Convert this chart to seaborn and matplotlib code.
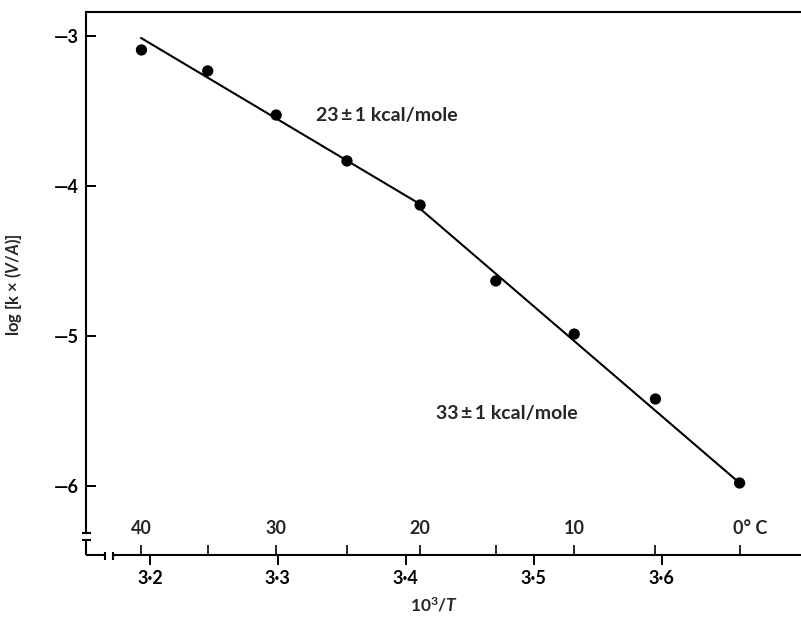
import numpy as np
import pandas as pd
import matplotlib
matplotlib.use("Agg")
import matplotlib.pyplot as plt
import seaborn as sns

# ---- data ----
temps_C = [40, 35, 30, 25, 20, 15, 10, 5, 0]
log_k = [-3.093, -3.233, -3.527, -3.833, -4.127, -4.633, -4.987, -5.42, -5.98]
fit1_x = [3.193, 3.411]
fit1_y = [-3.013, -4.12]
fit2_x = [3.411, 3.661]
fit2_y = [-4.15, -5.98]
x_ticks = [3.2, 3.3, 3.4, 3.5, 3.6]
x_tick_labels = ["3·2", "3·3", "3·4", "3·5", "3·6"]
y_ticks = [-3, -4, -5, -6]
y_tick_labels = ["\u20143", "\u20144", "\u20145", "\u20146"]
temp_labels = {40: "40", 30: "30", 20: "20", 10: "10", 0: "0° C"}

inv_T = [1000.0 / (t + 273.15) for t in temps_C]
pts = pd.DataFrame({"invT": inv_T, "logk": log_k})
fits = pd.DataFrame({"x": fit1_x + fit2_x, "y": fit1_y + fit2_y,
                     "seg": [1, 1, 2, 2]})

sns.set_theme(style="white")
plt.rcParams["font.family"] = ["Lato", "DejaVu Sans"]
plt.rcParams["font.weight"] = "bold"
plt.rcParams["mathtext.fontset"] = "custom"
plt.rcParams["mathtext.rm"] = "Lato:bold"
plt.rcParams["mathtext.it"] = "Lato:italic:bold"
plt.rcParams["mathtext.bf"] = "Lato:bold"

fig = plt.figure(figsize=(8.01, 6.24), dpi=100)
ax = fig.add_axes([86 / 801, 1 - 555 / 624, (801 - 86) / 801, (555 - 12) / 624])

XMIN, XMAX = 3.15, 3.709
YMIN, YMAX = -6.46, -2.84

sns.lineplot(data=fits, x="x", y="y", units="seg", estimator=None,
             color="black", lw=1.5, ax=ax, legend=False)
sns.scatterplot(data=pts, x="invT", y="logk", color="black", s=66,
                edgecolor="none", ax=ax, zorder=3, legend=False)

ax.set_xlim(XMIN, XMAX)
ax.set_ylim(YMIN, YMAX)

# spines
for s in ["top", "left", "bottom"]:
    ax.spines[s].set_linewidth(1.5)
    ax.spines[s].set_color("black")
ax.spines["right"].set_visible(False)
ax.spines["left"].set_bounds(-6.313, YMAX)
ax.spines["bottom"].set_bounds(3.1711, XMAX)

# axis break stubs and marks
kw = dict(color="black", lw=1.5, clip_on=False, solid_capstyle="butt")
ax.plot([XMIN, XMIN], [YMIN, -6.36], **kw)
ax.plot([3.1469, 3.1539], [-6.313, -6.313], **kw)
ax.plot([3.1469, 3.1539], [-6.36, -6.36], **kw)
ax.plot([XMIN, 3.1648], [YMIN, YMIN], **kw)
ax.plot([3.1648, 3.1648], [-6.44, -6.493], **kw)
ax.plot([3.1711, 3.1711], [-6.44, -6.493], **kw)

# ticks
ax.set_xticks(x_ticks)
ax.set_xticklabels(x_tick_labels)
ax.set_xticks(inv_T, minor=True)
ax.set_yticks(y_ticks)
ax.set_yticklabels(y_tick_labels)
ax.tick_params(axis="x", which="major", direction="out", length=7, width=1.4,
               pad=4, labelsize=13, bottom=True, colors="black")
ax.tick_params(axis="x", which="minor", direction="in", length=7, width=1.4,
               bottom=True, labelbottom=False)
ax.tick_params(axis="y", which="major", direction="in", length=7, width=1.4,
               pad=5, labelsize=13, left=True, colors="black")

# temperature labels above axis
for t, invt in zip(temps_C, inv_T):
    if t in temp_labels:
        lab = temp_labels[t]
        if t == 0:
            ax.annotate(lab, (invt, -6.285), xytext=(-4.5, 0), textcoords="offset points",
                        ha="left", va="center", fontsize=13, fontweight="bold")
        else:
            ax.text(invt, -6.285, lab, ha="center", va="center", fontsize=13,
                    fontweight="bold")

# annotations
ax.text(3.3297, -3.527, "23\u2009\u00b1\u20091 kcal/mole", ha="left", va="center",
        fontsize=14, fontweight="bold")
ax.text(3.4234, -5.52, "33\u2009\u00b1\u20091 kcal/mole", ha="left", va="center",
        fontsize=14, fontweight="bold")

ax.set_xlabel(r"10$^3$/$T$", fontsize=12.5, fontweight="bold")
ax.set_ylabel("log [k \u00d7 ($V$/$A$)]", fontsize=12, fontweight="bold")
ax.xaxis.set_label_coords((434 - 86) / 715, (555 - 596) / 543)
ax.yaxis.set_label_coords((24 - 86) / 715, (555 - 285) / 543)

fig.savefig("out.png", dpi=100)
